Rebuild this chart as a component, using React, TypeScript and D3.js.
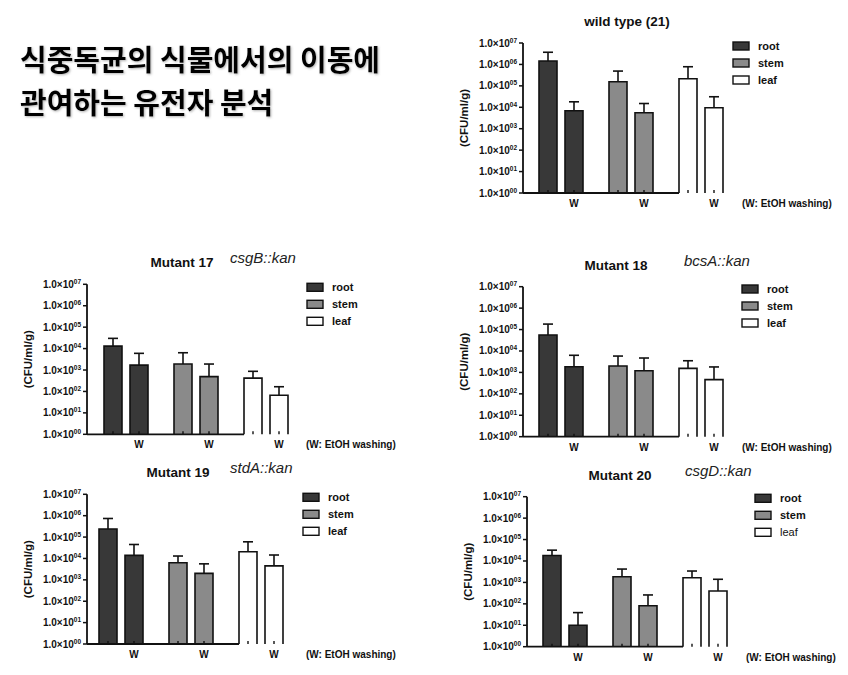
import React from "react";
import * as d3 from "d3";

// ---------- data ----------
const tissues = ["root", "stem", "leaf"];
const washLabels = ["", "W"];
const tickExponents = ["00", "01", "02", "03", "04", "05", "06", "07"];
const tickValues = [1, 1e1, 1e2, 1e3, 1e4, 1e5, 1e6, 1e7];

const panelTitles = ["wild type (21)", "Mutant 17", "Mutant 18", "Mutant 19", "Mutant 20"];
const geneLabels = ["", "csgB::kan", "bcsA::kan", "stdA::kan", "csgD::kan"];

// order per panel: root, root(W), stem, stem(W), leaf, leaf(W)
const wildMeans = [1.45e6, 6.9e3, 1.56e5, 5.6e3, 2.15e5, 9.5e3];
const wildErrTops = [3.7e6, 1.8e4, 4.9e5, 1.5e4, 7.8e5, 3.1e4];
const m17Means = [1.3e4, 1.7e3, 1.9e3, 4.9e2, 4.2e2, 66];
const m17ErrTops = [3.0e4, 6.0e3, 6.4e3, 1.9e3, 8.7e2, 1.66e2];
const m18Means = [5.6e4, 1.85e3, 2.0e3, 1.2e3, 1.55e3, 4.6e2];
const m18ErrTops = [1.8e5, 6.3e3, 5.8e3, 4.7e3, 3.5e3, 1.8e3];
const m19Means = [2.4e5, 1.4e4, 6.3e3, 2.0e3, 2.05e4, 4.5e3];
const m19ErrTops = [7.4e5, 4.5e4, 1.3e4, 5.6e3, 6.0e4, 1.45e4];
const m20Means = [1.8e4, 10, 1.85e3, 82, 1.65e3, 4.0e2];
const m20ErrTops = [3.2e4, 39, 4.2e3, 2.6e2, 3.4e3, 1.4e3];

const allMeans = [wildMeans, m17Means, m18Means, m19Means, m20Means];
const allErrTops = [wildErrTops, m17ErrTops, m18ErrTops, m19ErrTops, m20ErrTops];

// ---------- layout (positions only) ----------
const layouts = [
  { axisX: 523, top: 43, bottom: 193, first: 16, legendDx: 210, legendDy: 3, titleDx: 104, geneDx: 0 },
  { axisX: 87, top: 284.3, bottom: 434.3, first: 17, legendDx: 220, legendDy: 3, titleDx: 95, geneDx: 143 },
  { axisX: 523, top: 286.7, bottom: 436.7, first: 16, legendDx: 219, legendDy: 2.3, titleDx: 93, geneDx: 161 },
  { axisX: 87, top: 494.3, bottom: 644, first: 12, legendDx: 216, legendDy: 3, titleDx: 91, geneDx: 143 },
  { axisX: 527, top: 496.7, bottom: 646.7, first: 16, legendDx: 228, legendDy: 1.6, titleDx: 93, geneDx: 158 },
];
const fills = ["#383838", "#8a8a8a", "#ffffff"];
const FONT = "'Liberation Sans', Arial, Helvetica, sans-serif";

function Panel({ idx }: { idx: number }) {
  const L = layouts[idx];
  const means = allMeans[idx];
  const errs = allErrTops[idx];
  const y = d3.scaleLog().domain([1, 1e7]).range([L.bottom, L.top]);
  const xGroup = d3
    .scaleLinear()
    .domain([0, tissues.length])
    .range([L.axisX + L.first, L.axisX + L.first + 210]);
  const xInner = d3.scaleBand<string>().domain(washLabels).range([0, 44]).paddingInner(8 / 26).paddingOuter(0);
  const groupStart = (t: string) => xGroup(tissues.indexOf(t));
  const bw = xInner.bandwidth();
  const axisEnd = groupStart("leaf");
  const midY = (L.top + L.bottom) / 2;
  const legendX = L.axisX + L.legendDx;
  const legendY0 = L.top + L.legendDy;
  const boldLeaf = idx !== 4;

  return (
    <g fontFamily={FONT}>
      <text x={L.axisX + L.titleDx} y={L.top - 17} textAnchor="middle" fontWeight="bold" fontSize={13.5} fill="#111">
        {panelTitles[idx]}
      </text>
      {geneLabels[idx] && (
        <text x={L.axisX + L.geneDx} y={L.top - 21} fontStyle="italic" fontSize={15} fill="#222">
          {geneLabels[idx]}
        </text>
      )}
      <text
        transform={`translate(${L.axisX - 55},${midY}) rotate(-90)`}
        textAnchor="middle"
        fontWeight="bold"
        fontSize={11.5}
        fill="#111"
      >
        (CFU/ml/g)
      </text>
      {tickValues.map((v, i) => (
        <g key={i}>
          <line x1={L.axisX - 4} x2={L.axisX} y1={y(v)} y2={y(v)} stroke="#111" strokeWidth={1.5} />
          <text x={L.axisX - 6} y={y(v) + 3.5} textAnchor="end" fontWeight="bold" fontSize={10} fill="#111">
            1.0×10
            <tspan dy={-4} fontSize={6.5}>
              {tickExponents[i]}
            </tspan>
          </text>
        </g>
      ))}
      {tissues.map((t, gi) =>
        washLabels.map((w, wi) => {
          const k = gi * 2 + wi;
          const x0 = groupStart(t) + (xInner(w) as number);
          const yt = y(means[k]);
          const ye = y(errs[k]);
          const cx = x0 + bw / 2;
          return (
            <g key={`${t}-${w}`}>
              <rect x={x0} y={yt} width={bw} height={L.bottom - yt} fill={fills[gi]} />
              <path
                d={`M${x0},${L.bottom}V${yt}H${x0 + bw}V${L.bottom}`}
                fill="none"
                stroke="#111"
                strokeWidth={1.6}
              />
              <line x1={cx} x2={cx} y1={yt} y2={ye} stroke="#111" strokeWidth={1.6} />
              <line x1={cx - 5} x2={cx + 5} y1={ye} y2={ye} stroke="#111" strokeWidth={1.6} />
              <line x1={cx} x2={cx} y1={L.bottom} y2={L.bottom - 3} stroke="#111" strokeWidth={1.4} />
            </g>
          );
        })
      )}
      <line x1={L.axisX} x2={L.axisX} y1={L.top} y2={L.bottom} stroke="#111" strokeWidth={1.8} />
      <line x1={L.axisX} x2={axisEnd} y1={L.bottom} y2={L.bottom} stroke="#111" strokeWidth={1.8} />
      {tissues.map((t) => (
        <text
          key={t}
          x={groupStart(t) + (xInner("W") as number) + bw / 2}
          y={L.bottom + 14}
          textAnchor="middle"
          fontWeight="bold"
          fontSize={10}
          fill="#111"
        >
          W
        </text>
      ))}
      <text x={L.axisX + 219} y={L.bottom + 14} fontWeight="bold" fontSize={10} fill="#111">
        (W: EtOH washing)
      </text>
      {tissues.map((t, i) => (
        <g key={t}>
          <rect
            x={legendX}
            y={legendY0 + i * 17 - 4}
            width={16}
            height={8}
            fill={fills[i]}
            stroke="#111"
            strokeWidth={1.4}
          />
          <text
            x={legendX + 25}
            y={legendY0 + i * 17 + 4}
            fontWeight={i === 2 && !boldLeaf ? "normal" : "bold"}
            fontSize={11}
            fill="#111"
          >
            {t}
          </text>
        </g>
      ))}
    </g>
  );
}

export default function App() {
  return (
    <svg
      width={848}
      height={675}
      style={{ position: "absolute", left: 0, top: 0, background: "#fff" }}
    >
      <defs>
        <filter id="sh" x="-10%" y="-20%" width="120%" height="150%">
          <feDropShadow dx={1} dy={1} stdDeviation={1} floodColor="#666" floodOpacity={0.5} />
        </filter>
      </defs>
      <rect width={848} height={675} fill="#fff" />
      <g fontFamily="'Noto Sans CJK KR', sans-serif" fontWeight="bold" fontSize={29} fill="#000" filter="url(#sh)">
        <text x={20} y={71}>식중독균의 식물에서의 이동에</text>
        <text x={20} y={114}>관여하는 유전자 분석</text>
      </g>
      {layouts.map((_, i) => (
        <Panel key={i} idx={i} />
      ))}
    </svg>
  );
}
